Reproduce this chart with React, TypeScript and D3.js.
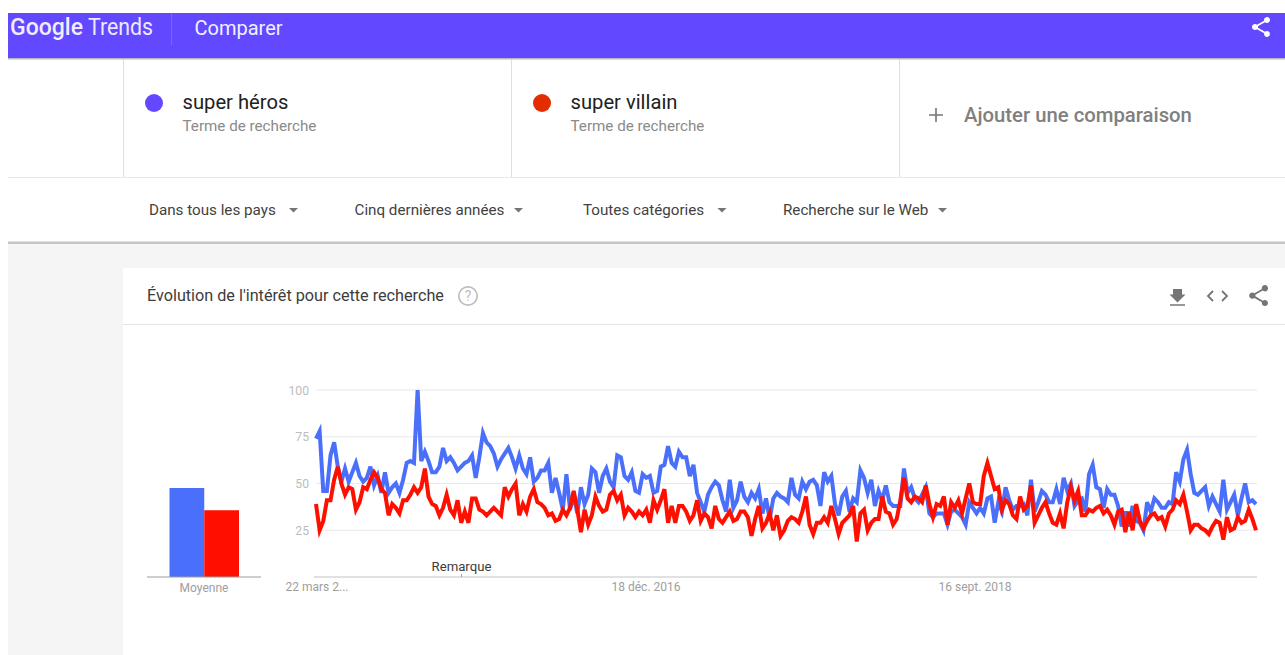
import React from "react";
import * as d3 from "d3";

const heroValues = [74,78,46,46,65,72,59,51,58,51,56,61,54,51,53,59,49,54,45,56,45,48,50,45,52,61,62,61,100,62,67,62,56,56,59,69,62,64,61,57,59,61,62,65,53,64,77,72,70,66,59,63,66,69,64,58,65,58,55,64,51,53,57,57,61,45,53,45,36,55,36,44,34,48,39,44,58,56,45,54,58,51,48,65,
64,54,52,56,46,45,55,53,54,45,46,59,60,70,61,59,67,64,64,54,60,45,40,35,44,48,51,49,41,35,52,37,41,51,43,40,45,42,47,34,42,31,42,45,43,42,40,53,44,42,51,47,51,52,49,38,56,51,54,39,33,43,46,35,42,40,57,53,45,52,38,46,41,49,40,38,38,38,58,45,48,42,40,44,48,34,32,34,34,
34,28,35,36,34,32,28,40,37,34,37,34,42,43,29,40,35,48,41,36,38,38,39,33,52,35,40,46,44,40,40,47,39,53,46,50,38,41,42,35,55,60,48,47,37,47,44,44,38,27,35,27,38,30,29,25,40,35,42,40,37,37,40,39,56,51,63,68,55,45,44,46,48,38,43,39,35,52,36,40,44,33,42,50,40,41,39];
const villainValues = [39,25,30,41,41,52,59,50,44,48,47,36,40,48,47,52,56,53,47,45,33,39,37,34,41,41,44,48,45,48,58,43,39,38,33,37,44,36,33,41,29,35,29,42,42,36,35,33,35,37,35,33,48,43,47,50,33,39,35,43,47,40,39,37,33,34,30,31,36,33,37,46,36,24,36,28,33,43,38,35,36,44,46,41,
44,33,37,35,32,35,33,36,29,41,36,41,47,29,38,29,38,38,35,30,33,41,30,34,32,26,38,31,29,32,35,30,31,35,35,32,22,31,38,26,29,34,25,33,22,25,30,32,31,29,35,43,28,23,29,29,32,29,38,31,23,29,31,33,38,19,34,36,25,29,31,31,43,35,34,28,31,41,53,42,40,43,42,40,49,39,32,39,38,
43,28,40,37,41,34,42,50,40,39,39,54,61,54,47,48,36,41,39,33,31,43,36,38,49,29,33,37,40,34,29,28,34,26,40,48,41,46,33,33,36,35,37,38,34,36,33,28,35,36,24,35,25,39,30,26,30,33,34,31,32,27,34,36,41,39,44,35,25,28,28,26,25,23,27,30,29,20,32,25,26,32,29,30,36,31,25];
const averageValues = [47.6, 35.7];
const seriesNames = ["super héros", "super villain"];
const yTicks = [25, 50, 75, 100];
const xTickLabels = ["22 mars 2...", "18 déc. 2016", "16 sept. 2018"];
const filterLabels = ["Dans tous les pays", "Cinq dernières années", "Toutes catégories", "Recherche sur le Web"];

const font = "Roboto, sans-serif";
const shareIcon = "M18 16.08c-.76 0-1.44.3-1.96.77L8.91 12.7c.05-.23.09-.46.09-.7s-.04-.47-.09-.7l7.05-4.11c.54.5 1.25.81 2.04.81 1.66 0 3-1.34 3-3s-1.34-3-3-3-3 1.34-3 3c0 .24.04.47.09.7L8.04 9.81C7.5 9.31 6.79 9 6 9c-1.66 0-3 1.34-3 3s1.34 3 3 3c.79 0 1.5-.31 2.04-.81l7.12 4.16c-.05.21-.08.43-.08.65 0 1.61 1.31 2.92 2.92 2.92s2.92-1.31 2.92-2.92-1.31-2.92-2.92-2.92z";

export default function App() {
  const y = d3.scaleLinear().domain([0, 100]).range([577, 390]);
  const x = d3.scaleLinear().domain([0, heroValues.length - 1]).range([316, 1256]);
  const line = d3.line<number>().x((_, i) => x(i)).y((d) => y(d));
  const barX = d3.scaleBand<number>().domain([0, 1]).range([169.5, 239]);
  const lineColors = ["#4a6ffa", "#ff0f00"];
  return (
    <svg width={1285} height={655} style={{ position: "absolute", left: 0, top: 0, fontFamily: font }}>
      <rect x={0} y={0} width={1285} height={655} fill="#fff" />
      <rect x={8} y={243} width={1277} height={412} fill="#f5f5f5" />
      <rect x={8} y={241.5} width={1277} height={2.5} fill="#c4c4c4" />
      <rect x={123} y={268} width={1162} height={387} fill="#fff" />
      <rect x={123} y={324} width={1162} height={1} fill="#e6e6e6" />
      <rect x={8} y={177} width={1277} height={1} fill="#e8e8e8" />
      <rect x={123} y={58} width={1} height={119} fill="#e0e0e0" />
      <rect x={511} y={58} width={1} height={119} fill="#e0e0e0" />
      <rect x={899} y={58} width={1} height={119} fill="#e0e0e0" />

      <rect x={8} y={13} width={1277} height={45} fill="#6248ff" />
      <rect x={8} y={58} width={1277} height={1.5} fill="#b5b5c8" />
      <text x={10} y={35} fontSize={24} fontWeight={500} fill="#f0eeff" textLength={73} lengthAdjust="spacingAndGlyphs">Google</text>
      <text x={88} y={35} fontSize={23} fontWeight={400} fill="#eceaff" textLength={65} lengthAdjust="spacingAndGlyphs">Trends</text>
      <rect x={171} y={13} width={1} height={32} fill="#7a66ff" />
      <text x={194.5} y={35} fontSize={20} fill="#f2f0ff">Comparer</text>
      <path d={shareIcon} fill="#fff" transform="translate(1249,15)" />

      <circle cx={154} cy={103} r={9} fill="#6248ff" />
      <text x={182.5} y={109} fontSize={20.2} fill="#212121">{seriesNames[0]}</text>
      <text x={182.5} y={130.5} fontSize={15.2} fill="#8a8a8a">Terme de recherche</text>
      <circle cx={542} cy={103} r={9} fill="#e32c00" />
      <text x={570.5} y={109} fontSize={20.2} fill="#212121">{seriesNames[1]}</text>
      <text x={570.5} y={130.5} fontSize={15.2} fill="#8a8a8a">Terme de recherche</text>
      <path d="M929 115h14M936 108v14" stroke="#757575" strokeWidth={1.6} />
      <text x={964} y={122} fontSize={20.3} fontWeight={500} fill="#808080">Ajouter une comparaison</text>

      {filterLabels.map((t, i) => {
        const tx = [149, 354.5, 583, 783][i];
        const ax = [289, 514, 717.5, 938][i];
        return (
          <g key={t}>
            <text x={tx} y={215} fontSize={15.2} fill="#424242">{t}</text>
            <path d={`M${ax} 208h9l-4.5 4.5z`} fill="#757575" />
          </g>
        );
      })}

      <text x={147} y={301} fontSize={16.2} fill="#3c3c3c">Évolution de l'intérêt pour cette recherche</text>
      <circle cx={468} cy={296} r={9.2} fill="none" stroke="#bdbdbd" strokeWidth={1.7} />
      <text x={468} y={301} fontSize={14} textAnchor="middle" fill="#bdbdbd">?</text>
      <path d="M1173 289h9v5.5h3.5l-8 8-8-8h3.5zM1170 304.2h15v1.6h-15z" fill="#757575" />
      <path d="M1213 291l-5 5 5 5M1222 291l5 5-5 5" fill="none" stroke="#757575" strokeWidth={1.8} />
      <path d={shareIcon} fill="#757575" transform="translate(1246,283) scale(1.05)" />

      {yTicks.map((t) => (
        <g key={t}>
          <line x1={316} x2={1257} y1={y(t)} y2={y(t)} stroke="#e8e8e8" strokeWidth={1.2} />
          <text x={309} y={y(t) + 4.5} fontSize={12.2} textAnchor="end" fill="#bdbdbd">{t}</text>
        </g>
      ))}
      <line x1={314} x2={1257} y1={577} y2={577} stroke="#c4c4c4" strokeWidth={1.2} />
      <line x1={461.5} x2={461.5} y1={574} y2={577} stroke="#9e9e9e" />
      <text x={461.5} y={571} fontSize={13.2} textAnchor="middle" fill="#3c3c3c">Remarque</text>

      <path d={line(heroValues) ?? ""} fill="none" stroke={lineColors[0]} strokeWidth={4} strokeLinejoin="miter" />
      <path d={line(villainValues) ?? ""} fill="none" stroke={lineColors[1]} strokeWidth={4} strokeLinejoin="miter" />

      <text x={285.5} y={591} fontSize={12} fill="#9e9e9e">{xTickLabels[0]}</text>
      <text x={646} y={591} fontSize={12} textAnchor="middle" fill="#9e9e9e">{xTickLabels[1]}</text>
      <text x={975} y={591} fontSize={12} textAnchor="middle" fill="#9e9e9e">{xTickLabels[2]}</text>

      {averageValues.map((v, i) => (
        <rect key={i} x={barX(i)} y={y(v)} width={barX.bandwidth()} height={577 - y(v)} fill={lineColors[i]} />
      ))}
      <line x1={147} x2={261} y1={577} y2={577} stroke="#9e9e9e" strokeWidth={1.2} />
      <text x={204} y={592} fontSize={12} textAnchor="middle" fill="#9e9e9e">Moyenne</text>
    </svg>
  );
}
